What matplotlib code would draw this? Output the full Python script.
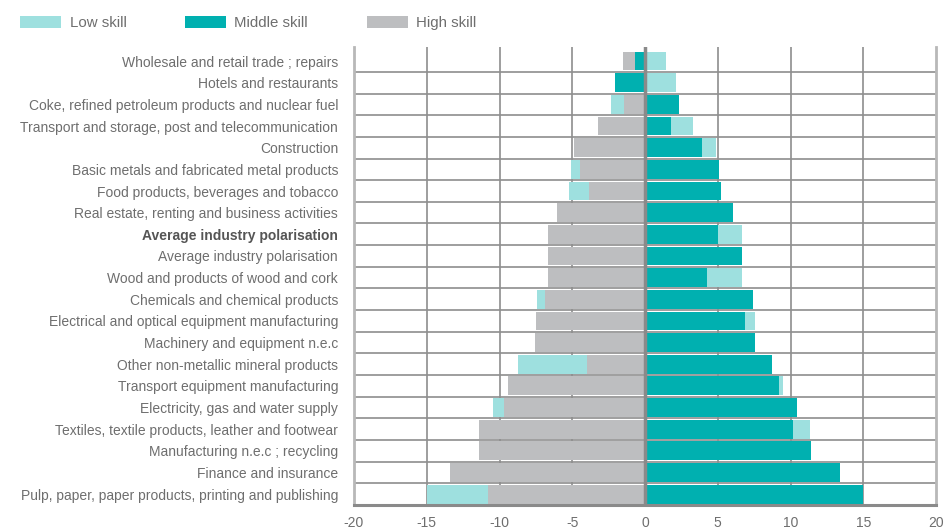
import matplotlib.pyplot as plt
import numpy as np

# sectors, top to bottom
categories = [
    "Wholesale and retail trade ; repairs",
    "Hotels and restaurants",
    "Coke, refined petroleum products and nuclear fuel",
    "Transport and storage, post and telecommunication",
    "Construction",
    "Basic metals and fabricated metal products",
    "Food products, beverages and tobacco",
    "Real estate, renting and business activities",
    "Average industry polarisation",
    "Average industry polarisation",
    "Wood and products of wood and cork",
    "Chemicals and chemical products",
    "Electrical and optical equipment manufacturing",
    "Machinery and equipment n.e.c",
    "Other non-metallic mineral products",
    "Transport equipment manufacturing",
    "Electricity, gas and water supply",
    "Textiles, textile products, leather and footwear",
    "Manufacturing n.e.c ; recycling",
    "Finance and insurance",
    "Pulp, paper, paper products, printing and publishing",
]
bold_row = 8

low_skill = [1.45, 2.14, -0.90, 1.52, 0.97, -0.63, -1.38, 0.0, 1.59, 0.0, 2.35,
             -0.56, 0.69, 0.0, -4.76, 0.28, -0.75, 1.17, 0.0, 0.0, -4.19]
middle_skill = [-0.69, -2.07, 2.35, 1.80, 3.94, 5.12, 5.25, 6.08, 5.05, 6.64, 4.29,
                7.40, 6.84, 7.57, 8.74, 9.22, 10.46, 10.18, 11.42, 13.42, 15.0]
high_skill = [-0.82, 0.0, -1.45, -3.25, -4.91, -4.49, -3.87, -6.08, -6.64, -6.64, -6.64,
              -6.84, -7.50, -7.57, -3.96, -9.45, -9.70, -11.40, -11.42, -13.40, -10.80]

xticks = [-20, -15, -10, -5, 0, 5, 10, 15, 20]

plt.rcParams["font.family"] = ["Liberation Sans", "DejaVu Sans"]
text_col = "#6e6e6e"

fig = plt.figure(figsize=(9.47, 5.32), dpi=100)
ax = fig.add_axes([354 / 947, 1 - 505 / 532, (936 - 354) / 947, (505 - 47) / 532])

y = np.arange(len(categories))
pos = np.zeros(len(categories))
neg = np.zeros(len(categories))

# stacking order from zero outwards: middle, high, low
series = [
    ("Middle skill", middle_skill, "#00b0b0"),
    ("High skill", high_skill, "#bdbec0"),
    ("Low skill", low_skill, "#9ee0df"),
]
handles = {}
for name, vals, col in series:
    v = np.array(vals)
    left = np.where(v >= 0, pos, neg)
    h = ax.barh(y, v, left=left, height=0.87, color=col, label=name, zorder=2)
    handles[name] = h
    pos = pos + np.clip(v, 0, None)
    neg = neg + np.clip(v, None, 0)

ax.set_xlim(-20, 20)
ax.set_ylim(len(categories) - 0.5, -0.65)

# row separators and vertical grid
for b in np.arange(0.5, len(categories) - 0.5, 1):
    ax.axhline(b, color="#8e8e8e", lw=1.2, zorder=1)
for t in xticks[1:-1]:
    if t != 0:
        ax.axvline(t, color="#8e8e8e", lw=1.2, zorder=1)
ax.axvline(0, color="#8a8a8a", lw=2.5, zorder=3)

for side in ["left", "right"]:
    ax.spines[side].set_color("#b8b8b8")
    ax.spines[side].set_linewidth(2)
ax.spines["bottom"].set_color("#8a8a8a")
ax.spines["bottom"].set_linewidth(2.2)
ax.spines["top"].set_visible(False)

ax.set_xticks(xticks)
ax.set_xticklabels([str(t) for t in xticks])
ax.set_yticks(y)
ax.set_yticklabels(categories)
ax.tick_params(axis="both", length=0, colors=text_col, labelsize=10)
ax.tick_params(axis="y", pad=11.5, labelsize=10)
ax.tick_params(axis="x", pad=8)
lbl = ax.get_yticklabels()[bold_row]
lbl.set_fontweight("bold")
lbl.set_color("#555555")

order = ["Low skill", "Middle skill", "High skill"]
fig.legend([handles[n] for n in order], order, loc="center left",
           bbox_to_anchor=(20 / 947, 1 - 23 / 532), ncol=3, frameon=False,
           fontsize=10.8, labelcolor=text_col, handlelength=2.75, handleheight=0.9,
           handletextpad=0.55, columnspacing=3.9, borderpad=0, borderaxespad=0)

fig.savefig("out.png", dpi=100)
